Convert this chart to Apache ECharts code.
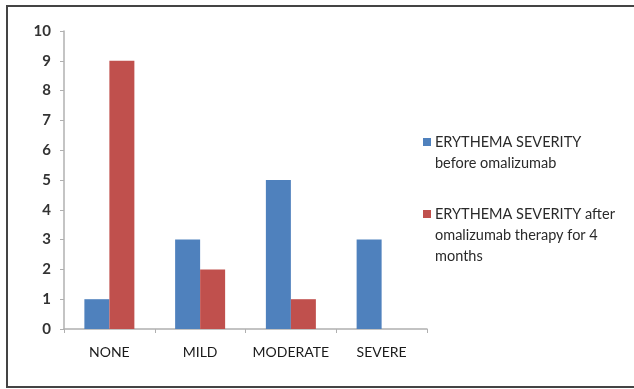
<!DOCTYPE html>
<html>
<head>
<meta charset="utf-8">
<script src="https://cdn.jsdelivr.net/npm/echarts@6/dist/echarts.min.js"></script>
<style>
  html, body { margin: 0; padding: 0; background: #fff; }
  #chart { width: 634px; height: 389px; }
</style>
</head>
<body>
<div id="chart"></div>
<script>
// Erythema severity grades
const categories = ['NONE', 'MILD', 'MODERATE', 'SEVERE'];
// Patient counts per grade
const beforeValues = [1, 3, 5, 3];
const afterValues = [9, 2, 1, 0];
const seriesNames = [
  'ERYTHEMA SEVERITY before omalizumab',
  'ERYTHEMA SEVERITY after omalizumab therapy for 4 months'
];
// Legend text, already wrapped into lines
const legendLines = [
  ['ERYTHEMA SEVERITY', 'before omalizumab'],
  ['ERYTHEMA SEVERITY after', 'omalizumab therapy for 4', 'months']
];
const colors = ['#4F81BD', '#C0504D'];
const yTicks = { min: 0, max: 10, interval: 1 };

const chart = echarts.init(document.getElementById('chart'));
const font = 'Lato, "Open Sans", sans-serif';

// Legend drawn as a block of swatches and wrapped text
const legendTops = [142, 214];
const legendGraphics = [];
legendLines.forEach((lines, i) => {
  legendGraphics.push({
    type: 'rect',
    left: 423, top: legendTops[i] - 4,
    shape: { width: 8, height: 8 },
    style: { fill: colors[i] }
  });
  legendGraphics.push({
    type: 'text',
    left: 435, top: legendTops[i] - 10.5,
    style: {
      text: lines.join('\n'),
      font: '14.5px ' + font,
      lineHeight: 21,
      fill: '#2a2a2a'
    }
  });
});

chart.setOption({
  animation: false,
  backgroundColor: '#fff',
  grid: { left: 64, right: 207, top: 31, bottom: 60 },
  xAxis: {
    type: 'category',
    data: categories,
    axisLine: { lineStyle: { color: '#b0b0b0', width: 1.5 } },
    axisTick: { show: true, length: 4, alignWithLabel: false, lineStyle: { color: '#b0b0b0' } },
    axisLabel: { interval: 0, hideOverlap: false, color: '#1a1a1a', fontFamily: font, fontSize: 14, margin: 16 }
  },
  yAxis: {
    type: 'value',
    min: yTicks.min, max: yTicks.max, interval: yTicks.interval,
    axisLine: { show: true, lineStyle: { color: '#b0b0b0', width: 1.5 } },
    axisTick: { show: true, length: 4, lineStyle: { color: '#b0b0b0' } },
    splitLine: { show: false },
    axisLabel: { color: '#333', fontFamily: font, fontSize: 15, fontWeight: 'bold', margin: 13 }
  },
  series: [
    {
      name: seriesNames[0], type: 'bar', data: beforeValues,
      itemStyle: { color: colors[0] },
      barWidth: 25, barGap: '0%'
    },
    {
      name: seriesNames[1], type: 'bar', data: afterValues,
      itemStyle: { color: colors[1] },
      barWidth: 25, barGap: '0%'
    }
  ],
  graphic: [
    {
      type: 'polyline',
      shape: { points: [[640, 6], [7, 6], [7, 387], [640, 387]] },
      style: { stroke: '#444', lineWidth: 2, fill: null }
    }
  ].concat(legendGraphics)
});
</script>
</body>
</html>
